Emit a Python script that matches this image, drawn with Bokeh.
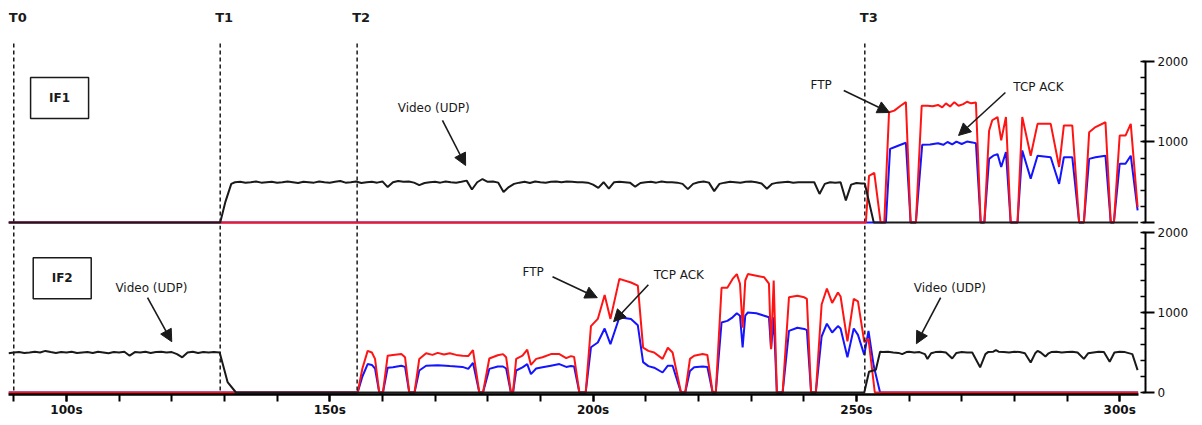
from bokeh.plotting import figure
from bokeh.layouts import column
from bokeh.models import (Range1d, SingleIntervalTicker, PrintfTickFormatter, Span,
                          Label, Arrow, NormalHead)
from bokeh.embed import file_html
from bokeh.resources import INLINE
from bokeh.core.properties import value

# ---------------- data (time in s, rate values) ----------------
event_times = [90.0, 129.2, 155.2, 251.6]
event_labels = ["T0", "T1", "T2", "T3"]

# IF1 : video (UDP)
if1_video_t = [89, 129.2, 130.2, 131.3, 132, 133, 134, 135, 136, 137, 138, 139, 140, 141, 142, 143, 144, 145,
               146, 147, 148, 149, 150, 151, 152, 153, 154, 155, 156, 157, 158, 159, 160, 161, 162, 163, 164,
               165, 166, 167, 168, 169, 170, 171, 172, 173, 174, 175, 176, 177, 178, 179, 180, 181, 182, 183,
               184, 185, 186, 187, 188, 189, 190, 191, 192, 193, 194, 195, 196, 197, 198, 199, 200, 201, 202,
               203, 204, 205, 206, 207, 208, 209, 210, 211, 212, 213, 214, 215, 216, 217, 218, 219, 220, 221,
               222, 223, 224, 225, 226, 227, 228, 229, 230, 231, 232, 233, 234, 235, 236, 237, 238, 239, 240,
               241, 242, 243, 244, 245, 246, 247, 248, 249, 250, 251, 251.6, 253.3, 303.5]
if1_video_v = [0, 0, 260, 480, 500, 505, 495, 500, 510, 495, 500, 505, 495, 500, 510, 500, 490, 505,
               500, 495, 510, 500, 495, 505, 515, 495, 500, 510, 490, 500, 505, 495, 510, 440, 500, 515, 505,
               510, 495, 465, 490, 500, 505, 495, 510, 500, 495, 505, 520, 410, 500, 540, 505, 510, 495, 380,
               440, 480, 495, 505, 490, 510, 500, 495, 505, 510, 500, 510, 505, 500, 500, 495, 470, 430, 500,
               420, 500, 505, 500, 495, 445, 490, 500, 505, 495, 510, 500, 500, 495, 480, 415, 480, 500, 510,
               495, 390, 480, 495, 505, 500, 495, 505, 510, 500, 485, 420, 480, 495, 500, 505, 495, 500, 500,
               500, 500, 355, 480, 500, 495, 500, 275, 470, 490, 485, 485, 0, 0]

# IF1 : FTP
if1_ftp_t = [89, 251.8, 252.4, 253.4, 254.6, 255.3, 256.2, 257.2, 258.4, 259.4, 260.3, 261.3, 262.4, 263.5,
             264.5, 265.5, 266.3, 267.0, 267.8, 268.6, 269.4, 270.3, 271.0, 271.8, 272.7, 273.6, 274.3, 275.2,
             275.8, 276.8, 277.5, 278.4, 279.3, 280.6, 281.5, 283.1, 284.4, 286.9, 288.5, 289.4, 291.0, 292.3,
             293.2, 294.2, 295.4, 297.3, 298.3, 298.9, 300.0, 301.1, 302.1, 303.4]
if1_ftp_v = [0, 0, 580, 615, 0, 0, 1370, 1390, 1450, 1495, 0, 0, 1450, 1450,
             1445, 1460, 1430, 1480, 1440, 1495, 1450, 1470, 1500, 1480, 1490, 0, 0, 1140,
             1270, 1310, 1020, 1310, 0, 0, 1310, 830, 1225, 1225, 690, 1205, 1205, 0,
             0, 1120, 1185, 1245, 0, 0, 1080, 1080, 1225, 190]

# IF1 : TCP ACK
if1_ack_t = [89, 255.6, 256.4, 257.2, 258.4, 259.4, 260.3, 261.3, 262.5, 264.0, 265.5, 266.5, 267.3, 268.2,
             269.0, 270.0, 271.0, 272.0, 272.7, 273.6, 274.3, 275.2, 276.0, 276.8, 277.5, 278.4, 279.3, 280.6,
             281.5, 283.1, 284.4, 286.9, 288.5, 289.4, 291.0, 292.3, 293.2, 294.2, 295.4, 297.3, 298.3, 298.9,
             300.0, 301.1, 302.1, 303.4]
if1_ack_v = [0, 0, 915, 935, 965, 990, 0, 0, 965, 970, 985, 965, 1000, 970,
             1005, 975, 1005, 995, 985, 0, 0, 790, 830, 850, 690, 875, 0, 0,
             895, 545, 830, 810, 480, 810, 810, 0, 0, 790, 810, 830, 0, 0,
             730, 730, 830, 150]

# IF2 : video (UDP)
if2_video_t = [89, 90, 91, 92, 93, 94, 95, 96, 97, 98, 99, 100, 101, 102, 103, 104, 105, 106, 107, 108, 109,
               110, 111, 112, 113, 114, 115, 116, 117, 118, 119, 120, 121, 122, 123, 124, 125, 126, 127, 128,
               129.1, 130.6, 132.2, 251.5, 252.4, 253.7, 254.5, 255, 256, 257, 258, 258.7, 259.5, 260, 261,
               262, 263, 263.5, 264.2, 265, 266, 267, 268.2, 269, 270, 271, 272, 273.5, 274.5, 275, 276,
               276.5, 277, 278, 279, 280, 281, 282, 283.1, 284, 284.4, 285, 285.9, 286.5, 287, 288, 289, 290,
               291, 292, 293.2, 294, 295, 296, 297, 298.1, 299, 300, 301, 302.4, 303.4]
if2_video_v = [490, 500, 505, 495, 500, 510, 500, 520, 505, 495, 505, 500, 510, 495, 500, 505, 495, 510, 500, 490, 505,
               500, 510, 460, 505, 500, 510, 495, 505, 510, 500, 505, 480, 440, 500, 510, 495, 505, 500, 505,
               500, 130, 0, 0, 260, 285, 510, 505, 510, 500, 495, 480, 505, 510, 500,
               505, 480, 420, 490, 505, 510, 500, 425, 495, 505, 500, 500, 315, 480, 505, 510,
               530, 510, 505, 500, 510, 505, 490, 375, 495, 520, 500, 450, 490, 505, 510, 500, 505,
               510, 500, 420, 490, 500, 510, 505, 385, 500, 510, 505, 480, 280]

# IF2 : FTP
if2_ftp_t = [89, 155.3, 156.2, 157.2, 158.0, 158.6, 159.4, 160.1, 161.0, 162.0, 163.6, 164.3, 165.1, 166.1,
             167.0, 168.3, 169.5, 170.5, 171.7, 172.8, 174.0, 175.2, 176.3, 177.2, 178.4, 179.1, 180.3, 181.9,
             182.9, 183.5, 184.4, 184.8, 185.4, 186.6, 187.5, 188.2, 189.2, 190.4, 192.0, 193.6, 194.9, 195.8,
             196.4, 197.4, 198.6, 199.6, 200.9, 202.2, 203.3, 205.0, 207.2, 208.5, 209.5, 210.5, 211.6, 213.2,
             214.2, 215.1, 216.7, 217.5, 218.4, 219.2, 220.8, 221.7, 222.7, 223.3, 224.4, 225.5, 226.5, 227.3,
             227.9, 228.4, 228.9, 229.4, 231.0, 232.5, 233.4, 233.8, 234.3, 234.9, 236.0, 237.2, 238.8, 240.1,
             240.6, 241.4, 242.3, 243.4, 244.4, 245.4, 246.5, 247.0, 248.3, 249.5, 250.3, 251.5, 252.3, 253.5,
             303.5]
if2_ftp_v = [0, 0, 300, 520, 500, 420, 0, 0, 460, 470, 480, 440, 0, 0,
             420, 490, 470, 495, 475, 490, 470, 460, 455, 530, 0, 0, 425, 465,
             480, 440, 0, 0, 420, 460, 535, 345, 420, 440, 480, 480, 430, 455,
             445, 0, 0, 830, 920, 1220, 920, 1420, 1375, 1335, 560, 520, 500, 420,
             560, 500, 0, 0, 420, 460, 480, 470, 0, 0, 1310, 1310, 1420, 1480,
             1360, 810, 1400, 1480, 1460, 1440, 1360, 540, 1400, 0, 0, 1190, 1210, 1190,
             1170, 0, 0, 1100, 1300, 1120, 1250, 1200, 640, 1170, 1140, 630, 670, 0,
             0]

# IF2 : TCP ACK
if2_ack_t = [89, 155.3, 156.2, 157.2, 158.0, 158.6, 159.4, 160.1, 161.0, 162.0, 163.6, 164.3, 165.1, 166.1,
             167.0, 168.3, 170.5, 172.8, 175.2, 176.3, 177.2, 178.4, 179.1, 180.3, 181.9, 182.9, 183.5, 184.4,
             184.8, 185.4, 186.6, 187.5, 188.2, 189.2, 190.4, 192.0, 193.6, 194.9, 195.8, 196.4, 197.4, 198.6,
             199.6, 200.9, 202.2, 203.3, 205.0, 207.2, 208.5, 209.5, 210.5, 211.6, 213.2, 214.2, 215.1, 216.7,
             217.5, 218.4, 219.2, 220.8, 221.7, 222.7, 223.3, 224.4, 225.5, 226.5, 227.3, 227.9, 228.4, 228.9,
             229.4, 231.0, 232.5, 233.4, 233.8, 234.3, 234.9, 236.0, 237.2, 238.8, 240.1, 240.6, 241.4, 242.3,
             243.4, 244.4, 245.4, 246.5, 247.0, 248.3, 249.5, 250.3, 251.5, 252.3, 253.3, 254.5, 303.5]
if2_ack_v = [0, 0, 200, 355, 345, 300, 0, 0, 310, 315, 335, 320, 0, 0,
             275, 335, 340, 330, 320, 295, 370, 0, 0, 295, 325, 325, 300, 0,
             0, 275, 315, 355, 230, 300, 315, 335, 355, 320, 330, 325, 0, 0,
             565, 625, 800, 605, 940, 920, 840, 380, 330, 310, 250, 335, 335, 0,
             0, 270, 315, 325, 320, 0, 0, 875, 895, 940, 990, 960, 565, 960,
             1000, 990, 960, 940, 545, 940, 0, 0, 770, 810, 795, 780, 0, 0,
             700, 860, 750, 830, 800, 440, 800, 720, 470, 770, 330, 0, 0]

# ---------------- styling ----------------
RED = "#ff1414"
BLUE = "#1414ff"
BLACK = "#1a1a1a"
FONT = "DejaVu Sans"
W = 1194
x_range = Range1d(89.0, 304.9)


def style(p, hide_zero=False):
    p.outline_line_color = None
    p.xgrid.visible = False
    p.ygrid.visible = False
    p.background_fill_color = "white"
    ax = p.yaxis[0]
    ax.ticker = SingleIntervalTicker(interval=1000, num_minor_ticks=5)
    ax.bounds = (0, 2000)
    ax.axis_line_width = 2
    ax.major_tick_line_width = 2
    ax.minor_tick_line_width = 1.5
    ax.major_tick_in = 3
    ax.major_tick_out = 9
    ax.minor_tick_in = 5
    ax.minor_tick_out = 0
    ax.major_label_standoff = 3
    ax.major_label_text_font = FONT
    ax.major_label_text_font_size = "12px"
    ax.major_label_text_color = "#111111"
    if hide_zero:
        ax.major_label_overrides = {0: ""}


def box_label(p, x, y, text):
    p.rect(x=[x], y=[y], width=58, height=41, width_units="screen", height_units="screen",
           fill_color=None, line_color=BLACK, line_width=1.5)
    p.add_layout(Label(x=x, y=y, text=text, text_align="center", text_baseline="middle",
                       text_font=FONT, text_font_size="12px", text_font_style="bold", text_color=BLACK))


def note(p, x, y, text, x0, y0, x1, y1):
    p.add_layout(Label(x=x, y=y, text=text, text_align="left", text_baseline="middle",
                       text_font=FONT, text_font_size="12px", text_color=BLACK))
    p.add_layout(Arrow(x_start=x0, y_start=y0, x_end=x1, y_end=y1, line_width=1.6, line_color=BLACK,
                       end=NormalHead(size=12, fill_color=BLACK, line_color=BLACK)))


# ---------------- top panel (IF1) ----------------
top = figure(width=W, height=225, x_range=x_range, y_range=Range1d(-37.3, 2658),
             x_axis_location=None, y_axis_location="right", toolbar_location=None,
             output_backend="svg", min_border_left=8, min_border_right=49,
             min_border_top=8, min_border_bottom=0)
style(top, hide_zero=True)
top.segment(x0=event_times, y0=[2224] * 4, x1=event_times, y1=[-60] * 4,
            line_color=BLACK, line_width=1.5, line_dash="4 3")
for t, lab in zip(event_times, event_labels):
    top.add_layout(Label(x=t, y=2546, text=lab, x_offset=-5, text_align="left", text_baseline="middle",
                         text_font=FONT, text_font_size="13px", text_font_style="bold", text_color=BLACK))
top.line(if1_ack_t, if1_ack_v, line_color=BLUE, line_width=2)
top.line(if1_ftp_t, if1_ftp_v, line_color=RED, line_width=2)
top.line(if1_video_t, if1_video_v, line_color=BLACK, line_width=2)
box_label(top, 98.7, 1547, "IF1")
note(top, 162.9, 1428, "Video (UDP)", 171.4, 1267, 175.8, 708)
note(top, 241.3, 1702, "FTP", 247.6, 1640, 256.3, 1366)
note(top, 279.8, 1677, "TCP ACK", 278.3, 1615, 269.4, 1081)

# ---------------- bottom panel (IF2) ----------------
bot = figure(width=W, height=200, x_range=x_range, y_range=Range1d(-25, 2087.5),
             y_axis_location="right", toolbar_location=None,
             output_backend="svg", min_border_left=8, min_border_right=49,
             min_border_top=0, min_border_bottom=31)
style(bot)
for t in event_times:
    bot.add_layout(Span(location=t, dimension="height", line_color=BLACK, line_width=1.5,
                        line_dash="4 3"))
bot.line(if2_ack_t, if2_ack_v, line_color=BLUE, line_width=2)
bot.line(if2_ftp_t, if2_ftp_v, line_color=RED, line_width=2)
bot.line(if2_video_t, if2_video_v, line_color=BLACK, line_width=2)
box_label(bot, 99.2, 1429, "IF2")
note(bot, 109.3, 1310, "Video (UDP)", 115.4, 1185, 120.0, 635)
note(bot, 186.6, 1510, "FTP", 192.3, 1447, 200.8, 1185)
note(bot, 211.5, 1472, "TCP ACK", 210.5, 1347, 203.9, 885)
note(bot, 260.9, 1310, "Video (UDP)", 266.0, 1185, 261.4, 610)

xa = bot.xaxis[0]
xa.ticker = SingleIntervalTicker(interval=50, num_minor_ticks=5)
xa.formatter = PrintfTickFormatter(format="%ds")
xa.bounds = (89, 303.5)
xa.axis_line_width = 2.5
xa.major_tick_line_width = 2
xa.minor_tick_line_width = 2
xa.major_tick_in = 0
xa.major_tick_out = 7
xa.minor_tick_in = 0
xa.minor_tick_out = 7
xa.major_label_standoff = 1
xa.major_label_text_font = FONT
xa.major_label_text_font_size = "12px"
xa.major_label_text_font_style = "bold"
xa.major_label_text_color = "#111111"

layout = column(top, bot)
open("out.html", "w").write(file_html(layout, INLINE))
